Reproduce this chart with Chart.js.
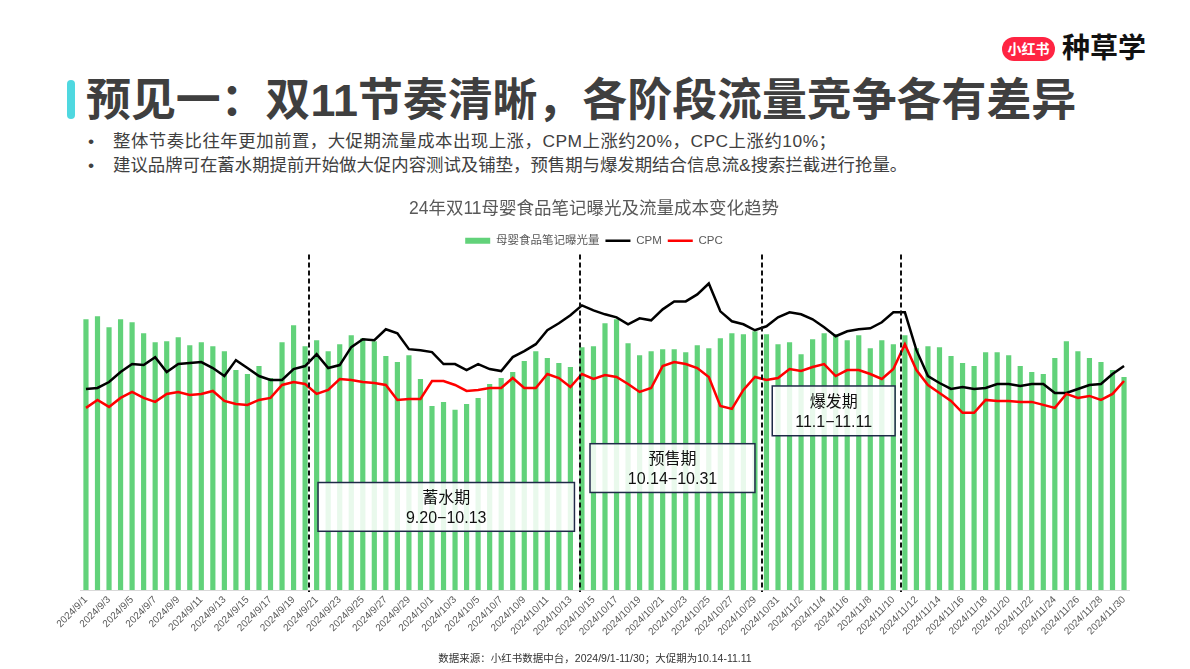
<!DOCTYPE html>
<html>
<head>
<meta charset="utf-8">
<script src="https://cdn.jsdelivr.net/npm/chart.js@4.4.1/dist/chart.umd.min.js"></script>
<style>
  html, body { margin:0; padding:0; background:#fff; }
  body { width:1190px; height:669px; position:relative; overflow:hidden;
         font-family:"Liberation Sans","Noto Sans CJK SC",sans-serif; }
  .abs { position:absolute; white-space:nowrap; }
  #accent { left:67px; top:80px; width:8px; height:39px; border-radius:4px; background:#4fd8e0; }
  #title { left:86px; top:78px; font-size:44.9px; line-height:45px; font-weight:bold; color:#3f3f3f; }
  .bullet { left:88px; font-size:17.4px; line-height:24px; color:#404040; }
  .btext { left:113px; font-size:17.4px; line-height:24px; color:#404040; }
  #pill { left:1002px; top:37px; width:53px; height:24px; border-radius:12px; background:#ff2442;
          color:#fff; font-weight:bold; font-size:14px; line-height:24px; text-align:center; }
  #brand { left:1062px; top:34px; font-size:28px; line-height:30px; font-weight:bold; color:#111; }
  #foot { left:0; width:1190px; top:651px; text-align:center; font-size:10.5px; line-height:14px; color:#333; }
  #chart { position:absolute; left:0; top:195px; }
</style>
</head>
<body>
<div id="accent" class="abs"></div>
<div id="title" class="abs">预见一：双11节奏清晰，各阶段流量竞争各有差异</div>
<div class="abs bullet" style="top:129px">•</div>
<div class="abs btext" style="top:129px;letter-spacing:0.5px">整体节奏比往年更加前置，大促期流量成本出现上涨，CPM上涨约20%，CPC上涨约10%；</div>
<div class="abs bullet" style="top:153px">•</div>
<div class="abs btext" style="top:153px">建议品牌可在蓄水期提前开始做大促内容测试及铺垫，预售期与爆发期结合信息流&amp;搜索拦截进行抢量。</div>
<div id="pill" class="abs">小红书</div>
<div id="brand" class="abs">种草学</div>
<canvas id="chart" width="1188" height="474"></canvas>
<div id="foot" class="abs">数据来源：小红书数据中台，2024/9/1-11/30；大促期为10.14-11.11</div>
<script>
// ---- data ----
const dates = [
 "2024/9/1","2024/9/2","2024/9/3","2024/9/4","2024/9/5","2024/9/6","2024/9/7","2024/9/8","2024/9/9","2024/9/10",
 "2024/9/11","2024/9/12","2024/9/13","2024/9/14","2024/9/15","2024/9/16","2024/9/17","2024/9/18","2024/9/19","2024/9/20",
 "2024/9/21","2024/9/22","2024/9/23","2024/9/24","2024/9/25","2024/9/26","2024/9/27","2024/9/28","2024/9/29","2024/9/30",
 "2024/10/1","2024/10/2","2024/10/3","2024/10/4","2024/10/5","2024/10/6","2024/10/7","2024/10/8","2024/10/9","2024/10/10",
 "2024/10/11","2024/10/12","2024/10/13","2024/10/14","2024/10/15","2024/10/16","2024/10/17","2024/10/18","2024/10/19","2024/10/20",
 "2024/10/21","2024/10/22","2024/10/23","2024/10/24","2024/10/25","2024/10/26","2024/10/27","2024/10/28","2024/10/29","2024/10/30",
 "2024/10/31","2024/11/1","2024/11/2","2024/11/3","2024/11/4","2024/11/5","2024/11/6","2024/11/7","2024/11/8","2024/11/9",
 "2024/11/10","2024/11/11","2024/11/12","2024/11/13","2024/11/14","2024/11/15","2024/11/16","2024/11/17","2024/11/18","2024/11/19",
 "2024/11/20","2024/11/21","2024/11/22","2024/11/23","2024/11/24","2024/11/25","2024/11/26","2024/11/27","2024/11/28","2024/11/29",
 "2024/11/30"
];
const exposure = [
 272,275,264,272,269,258,249,250,254,246,
 249,245,240,221,217,225,213,249,266,245,
 251,240,247,256,253,250,235,229,236,212,
 185,189,181,187,193,207,213,219,230,240,
 233,228,224,244,245,268,272,248,236,240,
 242,242,239,246,243,253,258,257,260,257,
 247,249,237,252,258,257,251,256,243,251,
 247,256,243,245,244,235,228,225,239,239,
 236,225,219,217,233,250,240,233,229,221,
 214
];
const cpm = [
 202,203,209,219,227,226,234,219,227,228,
 229,223,215,231,223,215,211,211,222,225,
 237,223,226,244,252,251,262,258,242,241,
 239,227,227,221,227,222,220,234,240,247,
 261,268,276,286,281,277,274,267,273,271,
 282,290,290,297,308,280,270,267,261,265,
 274,279,277,272,264,255,260,262,263,269,
 279,279,241,215,208,202,204,202,203,207,
 207,205,207,207,198,198,202,206,207,217,
 225
];
const cpc = [
 183,191,184,193,199,193,189,197,199,196,
 197,200,190,187,186,191,193,206,209,207,
 197,201,212,211,209,208,206,191,192,192,
 210,210,206,200,201,203,203,213,203,203,
 217,213,204,217,212,216,214,207,199,203,
 225,229,227,223,214,185,182,201,214,211,
 213,222,220,224,227,215,221,221,217,212,
 222,247,221,206,198,190,178,178,191,190,
 190,189,189,186,183,197,193,195,191,197,
 210
];
const seriesNames = ["母婴食品笔记曝光量", "CPM", "CPC"];
const phaseNames = ["蓄水期", "预售期", "爆发期"];
const phaseRanges = ["9.20−10.13", "10.14−10.31", "11.1−11.11"];

// ---- annotation geometry (in scale units) ----
const dividerAt = [19.33, 42.84, 58.65, 70.7];
const dividerTop = 337;
const phaseBoxes = [
  {x0: 20.12, x1: 42.35, yTop: 108, yBottom: 59},
  {x0: 43.7,  x1: 58.0,  yTop: 147, yBottom: 98},
  {x0: 59.5,  x1: 70.15, yTop: 205, yBottom: 155}
];

const phasePlugin = {
  id: 'phases',
  afterDatasetsDraw(chart) {
    const {ctx, scales: {x, y}} = chart;
    ctx.save();
    ctx.strokeStyle = '#111';
    ctx.lineWidth = 2;
    ctx.setLineDash([5, 3]);
    dividerAt.forEach(v => {
      const px = Math.round(x.getPixelForValue(v));
      ctx.beginPath();
      ctx.moveTo(px, y.getPixelForValue(dividerTop));
      ctx.lineTo(px, y.getPixelForValue(0) + 2);
      ctx.stroke();
    });
    ctx.setLineDash([]);
    phaseBoxes.forEach((b, i) => {
      const l = x.getPixelForValue(b.x0), r = x.getPixelForValue(b.x1);
      const t = y.getPixelForValue(b.yTop), btm = y.getPixelForValue(b.yBottom);
      ctx.fillStyle = 'rgba(255,255,255,0.86)';
      ctx.fillRect(l, t, r - l, btm - t);
      ctx.strokeStyle = '#1f2b48';
      ctx.lineWidth = 1.5;
      ctx.strokeRect(l, t, r - l, btm - t);
      ctx.fillStyle = '#111';
      ctx.textAlign = 'center';
      ctx.textBaseline = 'middle';
      ctx.font = '16px "Liberation Sans","Noto Sans CJK SC",sans-serif';
      const cx = (l + r) / 2;
      ctx.fillText(phaseNames[i], cx, t + (btm - t) * 0.33);
      ctx.fillText(phaseRanges[i], cx, t + (btm - t) * 0.73);
    });
    ctx.restore();
  }
};

const FONT = '"Liberation Sans","Noto Sans CJK SC",sans-serif';

new Chart(document.getElementById('chart'), {
  data: {
    labels: dates,
    datasets: [
      { type: 'bar', label: seriesNames[0], data: exposure, backgroundColor: '#62d27a',
        borderWidth: 0, barPercentage: 0.45, categoryPercentage: 1, yAxisID: 'y', order: 2, pointStyle: 'rect' },
      { type: 'line', label: seriesNames[1], data: cpm, borderColor: '#000000', backgroundColor: '#000000',
        borderWidth: 2.5, pointRadius: 0, tension: 0, yAxisID: 'y1', order: 1, pointStyle: 'line' },
      { type: 'line', label: seriesNames[2], data: cpc, borderColor: '#ff0000', backgroundColor: '#ff0000',
        borderWidth: 2.5, pointRadius: 0, tension: 0, yAxisID: 'y1', order: 0, pointStyle: 'line' }
    ]
  },
  options: {
    responsive: false,
    animation: false,
    layout: { padding: 0, autoPadding: false },
    plugins: {
      title: { display: true, text: '24年双11母婴食品笔记曝光及流量成本变化趋势',
               color: '#595959', font: { family: FONT, size: 17.5, weight: 'normal' },
               padding: { top: 3.5, bottom: 9.6 } },
      legend: { display: true, position: 'top',
                labels: { usePointStyle: true, pointStyleWidth: 25, boxHeight: 6, padding: 6,
                          color: '#595959', font: { family: FONT, size: 11.5 },
                          sort: (a, b) => a.datasetIndex - b.datasetIndex } },
      tooltip: { enabled: false }
    },
    scales: {
      x: { type: 'category', offset: true,
           grid: { display: false, drawTicks: false },
           border: { display: true, color: '#d9d9d9', width: 1 },
           ticks: { autoSkip: false, minRotation: 45, maxRotation: 45, padding: 4,
                    color: '#595959', font: { family: FONT, size: 10 },
                    callback: function(v, i) { return i % 2 === 0 ? this.getLabelForValue(v) : ''; } },
           afterFit: s => { s.height = 79; } },
      y: { position: 'left', min: 0, max: 335, display: true,
           ticks: { display: false }, grid: { display: false }, border: { display: false },
           afterFit: s => { s.width = 80.2; } },
      y1: { position: 'right', min: 0, max: 335, display: true,
            ticks: { display: false }, grid: { display: false }, border: { display: false },
            afterFit: s => { s.width = 58.2; } }
    }
  },
  plugins: [phasePlugin]
});
</script>
</body>
</html>
